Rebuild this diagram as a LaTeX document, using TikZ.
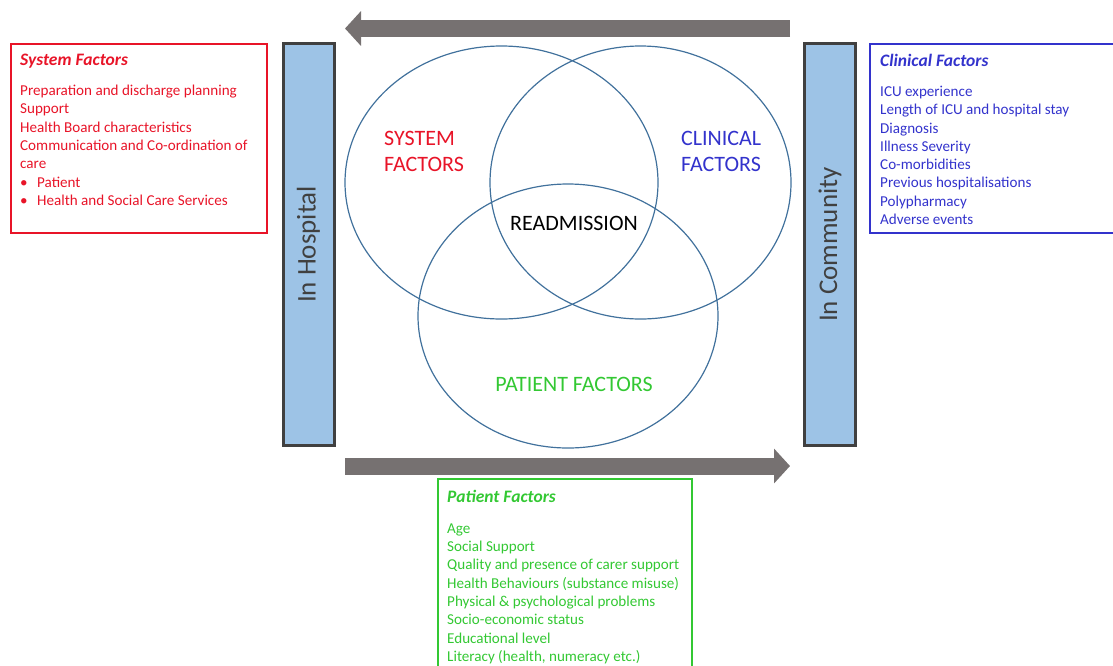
\documentclass[tikz,border=0pt]{standalone}
\usepackage{fontspec}
\setmainfont{Carlito}
\usetikzlibrary{shapes.geometric,arrows.meta}

\definecolor{sysred}{RGB}{232,20,40}
\definecolor{clinblue}{RGB}{51,51,204}
\definecolor{patgreen}{RGB}{51,200,51}
\definecolor{vennline}{RGB}{65,113,156}
\definecolor{flowgray}{RGB}{118,113,113}
\definecolor{barfill}{RGB}{157,195,230}
\definecolor{bardraw}{RGB}{64,64,64}

\begin{document}
\begin{tikzpicture}[x=1pt,y=-1pt,
    venn/.style={ellipse,draw=vennline,line width=1.2pt,inner sep=0pt},
    setlabel/.style={font=\fontsize{22}{26}\selectfont,align=left,anchor=north west,inner sep=0pt},
    stage/.style={rectangle,draw=bardraw,fill=barfill,line width=3pt,rotate=90,minimum height=51pt,
      minimum width=402pt,inner sep=0pt,text=bardraw,font=\fontsize{27}{30}\selectfont},
    factorbox/.style={rectangle,line width=2.2pt,inner sep=0pt},
    factorlist/.style={font=\fontsize{15.1}{18.3}\selectfont,align=left,anchor=north west,inner sep=0pt},
    flow/.style={flowgray,line width=17pt,-{Triangle[width=34pt,length=16pt]}}]
      \clip (0,0) rectangle (1113,665);

      % venn sets
      \node[venn,minimum width=313pt,minimum height=273pt] (sysset) at (501.5,182.5) {};
      \node[venn,minimum width=301pt,minimum height=273pt] (clinset) at (640.5,182.5) {};
      \node[venn,minimum width=300pt,minimum height=264pt] (patset) at (568,316) {};
      \node[setlabel,text=sysred] (syslabel) at (384,131.5) {SYSTEM\\FACTORS};
      \node[setlabel,text=clinblue] (clinlabel) at (681,131.5) {CLINICAL\\FACTORS};
      \node[font=\fontsize{22}{26}\selectfont,anchor=base,inner sep=0pt] (readmit) at (574,230) {READMISSION};
      \node[font=\fontsize{22}{26}\selectfont,anchor=base,inner sep=0pt,text=patgreen] (patlabel) at (574,391) {PATIENT FACTORS};

      % care settings
      \node[stage] (hospital) at (308.5,244.5) {In Hospital};
      \node[stage] (community) at (830,244.5) {In Community};

      % transitions
      \coordinate (backstart) at (790,28.5);
      \coordinate (backend) at (345,28.5);
      \draw[flow] (backstart) -- (backend);
      \coordinate (fwdstart) at (345,466);
      \coordinate (fwdend) at (790,466);
      \draw[flow] (fwdstart) -- (fwdend);

      % system factors
      \node[factorbox,draw=sysred,minimum width=256pt,minimum height=189pt] (sysbox) at (139,138.5) {};
      \node[factorlist,text=sysred] (syslist) at (20,54) {%
        {\fontsize{17.5}{20}\selectfont\bfseries\itshape System Factors}\\[11.7pt]
        Preparation and discharge planning\\
        Support\\
        Health Board characteristics\\
        Communication and Co-ordination of\\
        care\\
        \makebox[17pt][l]{\textbullet}Patient\\
        \makebox[17pt][l]{\textbullet}Health and Social Care Services};

      % clinical factors
      \node[factorbox,draw=clinblue,minimum width=255pt,minimum height=189pt] (clinbox) at (997.6,138.5) {};
      \node[factorlist,text=clinblue] (clinlist) at (880,54) {%
        {\fontsize{17.5}{20}\selectfont\bfseries\itshape Clinical Factors}\\[11.7pt]
        ICU experience\\
        Length of ICU and hospital stay\\
        Diagnosis\\
        Illness Severity\\
        Co-morbidities\\
        Previous hospitalisations\\
        Polypharmacy\\
        Adverse events};

      % patient factors
      \node[factorbox,draw=patgreen,minimum width=253.8pt,minimum height=201pt] (patbox) at (565,579.6) {};
      \node[factorlist,text=patgreen] (patlist) at (447,490) {%
        {\fontsize{17.5}{20}\selectfont\bfseries\itshape Patient Factors}\\[12.5pt]
        Age\\
        Social Support\\
        Quality and presence of carer support\\
        Health Behaviours (substance misuse)\\
        Physical \& psychological problems\\
        Socio-economic status\\
        Educational level\\
        Literacy (health, numeracy etc.)};

   \end{tikzpicture}
\end{document}
